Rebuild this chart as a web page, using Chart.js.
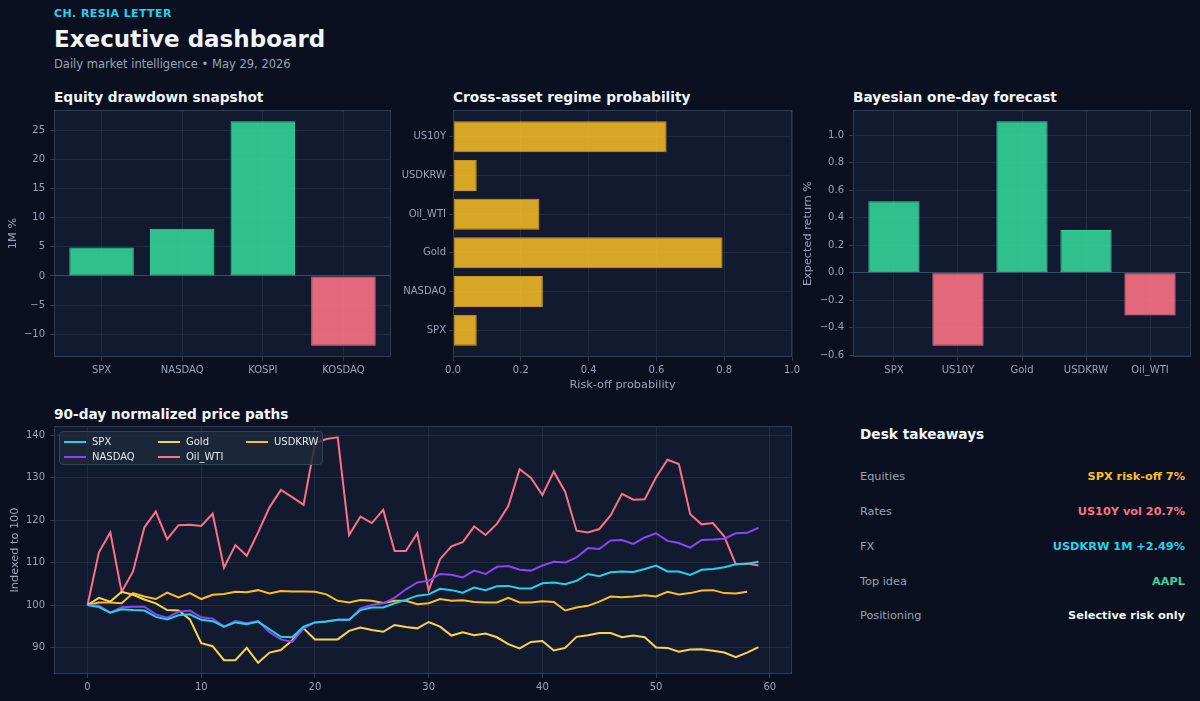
<!DOCTYPE html>
<html lang="en">
<head>
<meta charset="utf-8">
<script src="https://cdn.jsdelivr.net/npm/chart.js@4.4.1/dist/chart.umd.min.js"></script>
<style>
  html, body { margin: 0; padding: 0; background: #0b1020; }
  body { width: 1200px; height: 701px; position: relative; overflow: hidden; font-family: "DejaVu Sans", sans-serif; }
  .abs { position: absolute; line-height: 1; white-space: nowrap; }
  .brand { left: 54px; top: 8px; font-size: 11px; font-weight: bold; color: #22d3ee; letter-spacing: 0.4px; }
  .title { left: 54px; top: 27.5px; font-size: 23px; font-weight: bold; color: #f1f5f9; }
  .sub { left: 54px; top: 58.5px; font-size: 11.5px; color: #94a3b8; }
  .ptitle { font-size: 13.7px; font-weight: bold; color: #f1f5f9; }
  .wrap { position: absolute; }
  .legend { position: absolute; left: 59px; top: 431px; width: 264px; height: 34px; box-sizing: border-box;
            background: rgba(30,41,59,0.85); border: 1px solid #334155; border-radius: 4px; }
  .li { position: absolute; font-size: 10px; color: #e2e8f0; line-height: 1; }
  .li i { position: absolute; width: 22px; height: 2px; top: 4px; }
  .row-l { left: 860px; font-size: 11.3px; color: #94a3b8; }
  .row-v { right: 15px; font-size: 11.3px; font-weight: bold; text-align: right; }
</style>
</head>
<body>
<div class="abs brand">CH. RESIA LETTER</div>
<div class="abs title">Executive dashboard</div>
<div class="abs sub">Daily market intelligence • May 29, 2026</div>

<div class="abs ptitle" style="left:54px;top:91.4px">Equity drawdown snapshot</div>
<div class="abs ptitle" style="left:453px;top:91.4px">Cross-asset regime probability</div>
<div class="abs ptitle" style="left:853px;top:91.4px">Bayesian one-day forecast</div>
<div class="abs ptitle" style="left:54px;top:408.4px">90-day normalized price paths</div>
<div class="abs ptitle" style="left:860px;top:427.8px">Desk takeaways</div>

<div class="wrap" style="left:0;top:99px;width:391px;height:293px"><canvas id="eq"></canvas></div>
<div class="wrap" style="left:390px;top:101px;width:413px;height:291px"><canvas id="regime"></canvas></div>
<div class="wrap" style="left:795px;top:99px;width:396px;height:293px"><canvas id="fc"></canvas></div>
<div class="wrap" style="left:0;top:415px;width:792px;height:289px"><canvas id="paths"></canvas></div>
<div class="legend" id="legend"></div>
<div id="desk"></div>

<script>
// ---- equity drawdown snapshot
var eqCats = ['SPX', 'NASDAQ', 'KOSPI', 'KOSDAQ'];
var eqVals = [4.9, 8.1, 26.6, -12.0];
var eqTicks = [-10, -5, 0, 5, 10, 15, 20, 25];

// ---- cross-asset regime probability (bottom to top)
var regCats = ['SPX', 'NASDAQ', 'Gold', 'Oil_WTI', 'USDKRW', 'US10Y'];
var regVals = [0.07, 0.265, 0.795, 0.255, 0.07, 0.63];
var regTicks = [0, 0.2, 0.4, 0.6, 0.8, 1.0];

// ---- bayesian one-day forecast
var fcCats = ['SPX', 'US10Y', 'Gold', 'USDKRW', 'Oil_WTI'];
var fcVals = [0.52, -0.53, 1.10, 0.31, -0.31];
var fcTicks = [-0.6, -0.4, -0.2, 0, 0.2, 0.4, 0.6, 0.8, 1.0];

// ---- 90-day normalized price paths
var pathNames = ['SPX', 'NASDAQ', 'Gold', 'Oil_WTI', 'USDKRW'];
var spx = [100, 99.5, 98.2, 99.0, 98.8, 98.7, 97.2, 96.6, 97.6, 97.8,
  96.5, 96.2, 94.9, 95.9, 95.5, 96.1, 94.3, 92.5, 92.4, 94.9,
  95.9, 96.1, 96.5, 96.5, 98.8, 99.4, 99.4, 100.4, 101.2, 102.2,
  102.5, 103.8, 103.5, 102.9, 104.1, 103.5, 104.4, 104.5, 103.9, 103.9,
  105.1, 105.3, 104.9, 105.7, 107.3, 106.8, 107.7, 107.9, 107.8, 108.5,
  109.3, 107.9, 107.9, 107.1, 108.3, 108.5, 108.9, 109.6, 109.7, 110.2];
var nasdaq = [100, 99.8, 98.2, 99.5, 99.6, 99.6, 97.8, 97.0, 98.4, 98.7,
  97.1, 96.8, 94.9, 96.2, 95.7, 96.2, 93.6, 91.9, 91.3, 94.5,
  95.9, 96.1, 96.5, 96.5, 99.2, 100.0, 100.4, 101.7, 103.7, 105.3,
  105.7, 107.3, 107.1, 106.5, 108.1, 107.3, 109.0, 109.2, 108.3, 108.1,
  109.3, 110.2, 110.0, 111.2, 113.4, 113.2, 115.2, 115.3, 114.4, 115.9,
  116.9, 115.1, 114.6, 113.5, 115.3, 115.4, 115.6, 116.9, 117.0, 118.2];
var gold = [100, 101.7, 100.8, 103.1, 102.4, 101.3, 100.4, 98.8, 98.7, 96.6,
  91.0, 90.3, 87.0, 87.0, 89.9, 86.4, 88.8, 89.4, 91.7, 94.5,
  91.9, 91.9, 91.9, 93.9, 94.7, 94.1, 93.7, 95.3, 94.8, 94.5,
  96.0, 94.9, 92.8, 93.6, 92.9, 93.3, 92.4, 90.8, 89.8, 91.3,
  91.5, 89.3, 89.9, 92.5, 92.9, 93.4, 93.4, 92.4, 92.8, 92.4,
  90.0, 89.9, 89.0, 89.5, 89.6, 89.2, 88.8, 87.7, 88.8, 90.1];
var oil = [100, 112.4, 117.1, 103.1, 107.9, 118.3, 122.0, 115.5, 118.8, 118.9,
  118.6, 121.5, 108.8, 114.1, 111.6, 117.1, 123.0, 127.1, 125.4, 123.6,
  138.1, 139.1, 139.5, 116.5, 120.8, 119.3, 122.4, 112.7, 112.7, 116.9,
  103.4, 110.8, 113.8, 114.8, 118.5, 116.5, 119.1, 123.3, 132.0, 129.9,
  125.9, 131.4, 126.7, 117.5, 117.1, 117.9, 121.1, 126.2, 124.8, 124.9,
  130.1, 134.2, 133.2, 121.4, 119.0, 119.3, 116.1, 109.6, 109.8, 109.3];
var usdkrw = [100, 100.6, 100.6, 100.4, 102.8, 102.0, 101.4, 102.9, 101.8, 102.8,
  101.4, 102.4, 102.6, 103.1, 103.0, 103.5, 102.7, 103.3, 103.2, 103.2,
  103.1, 102.5, 101.0, 100.6, 101.2, 101.0, 100.5, 101.0, 101.0, 100.2,
  100.4, 101.4, 101.0, 101.1, 100.7, 100.6, 100.6, 101.7, 100.6, 100.6,
  100.9, 100.7, 98.7, 99.4, 99.8, 100.8, 102.0, 101.8, 102.0, 102.3,
  102.0, 103.1, 102.5, 102.8, 103.4, 103.5, 102.8, 102.7, 103.1];
var dayTicks = [0, 10, 20, 30, 40, 50, 60];
var pathTicks = [90, 100, 110, 120, 130, 140];

// ---- desk takeaways
var deskLabels = ['Equities', 'Rates', 'FX', 'Top idea', 'Positioning'];
var deskValues = ['SPX risk-off 7%', 'US10Y vol 20.7%', 'USDKRW 1M +2.49%', 'AAPL', 'Selective risk only'];
var deskColors = ['#fbbf24', '#fb7185', '#22d3ee', '#34d399', '#f1f5f9'];

var GREEN = 'rgba(52,211,153,0.9)', RED = 'rgba(251,113,133,0.9)';
var GRID = 'rgba(51,65,85,0.45)', ZERO = '#3b4a68', EDGE = '#2e3b57';
var lineColors = ['#22d3ee', '#8b45f5', '#fcd34d', '#fb7185', '#fbbf24'];

Chart.defaults.font.family = 'DejaVu Sans';
Chart.defaults.font.size = 10;
Chart.defaults.color = '#94a3b8';
Chart.defaults.animation = false;
Chart.defaults.responsive = true;
Chart.defaults.maintainAspectRatio = false;

var panelBg = {
    id: 'panelBg',
    beforeDraw: function (chart) {
        var a = chart.chartArea, ctx = chart.ctx;
        ctx.save();
        ctx.fillStyle = '#121a2f';
        ctx.fillRect(a.left, a.top, a.right - a.left, a.bottom - a.top);
        ctx.restore();
    },
    afterDraw: function (chart) {
        var a = chart.chartArea, ctx = chart.ctx;
        ctx.save();
        ctx.strokeStyle = EDGE;
        ctx.lineWidth = 1;
        ctx.strokeRect(a.left + 0.5, a.top + 0.5, a.right - a.left - 1, a.bottom - a.top - 1);
        ctx.restore();
    }
};

function fixTicks(list) {
    return function (s) { s.ticks = list.map(function (v) { return {value: v}; }); };
}
function minus(v, d) {
    return (v < 0 ? '\u2212' : '') + Math.abs(v).toFixed(d);
}
function gridOpts(zero) {
    return {
        color: function (c) { return zero && c.tick && c.tick.value === 0 ? ZERO : GRID; },
        tickColor: EDGE, tickLength: 4, lineWidth: 1, offset: false
    };
}
function yTitle(text, pad) {
    return {display: true, text: text, color: '#94a3b8', font: {size: 11.3}, padding: {top: pad, bottom: 0}};
}

function vbar(id, cats, vals, ticks, ymin, ymax, yw, title, titlePad, dec) {
    var m = 0.05 * (cats.length - 1 + 0.8);
    new Chart(document.getElementById(id), {
        type: 'bar',
        data: {
            datasets: [{
                data: vals.map(function (v, i) { return {x: i, y: v}; }),
                backgroundColor: vals.map(function (v) { return v >= 0 ? GREEN : RED; }),
                borderColor: vals.map(function (v) { return v >= 0 ? '#34d399' : '#fb7185'; }),
                borderWidth: 1, borderSkipped: false,
                categoryPercentage: 1, barPercentage: 0.8
            }]
        },
        options: {
            layout: {padding: 0},
            plugins: {legend: {display: false}, tooltip: {enabled: false}},
            scales: {
                x: {
                    type: 'linear', offset: false, min: -0.4 - m, max: cats.length - 0.6 + m,
                    afterBuildTicks: fixTicks(cats.map(function (c, i) { return i; })),
                    ticks: {callback: function (v) { return cats[v]; }, padding: 3, maxRotation: 0, autoSkip: false},
                    grid: gridOpts(false), border: {display: false},
                    afterFit: function (s) { s.height = 35; }, z: 1
                },
                y: {
                    min: ymin, max: ymax,
                    afterBuildTicks: fixTicks(ticks),
                    ticks: {callback: function (v) { return minus(v, dec); }, padding: 5},
                    grid: gridOpts(true), border: {display: false},
                    title: yTitle(title, titlePad),
                    afterFit: function (s) { s.width = yw; }, z: 1
                }
            }
        },
        plugins: [panelBg]
    });
}

vbar('eq', eqCats, eqVals, eqTicks, -13.93, 28.53, 54, '1M %', 6, 0);
vbar('fc', fcCats, fcVals, fcTicks, -0.6115, 1.1815, 58, 'Expected return %', 6, 1);

new Chart(document.getElementById('regime'), {
    type: 'bar',
    data: {
        datasets: [{
            data: regVals.map(function (v, i) { return {x: v, y: i}; }),
            backgroundColor: 'rgba(251,191,36,0.85)',
            borderColor: '#c9961c', borderWidth: 1, borderSkipped: false,
            categoryPercentage: 1, barPercentage: 0.8
        }]
    },
    options: {
        indexAxis: 'y',
        layout: {padding: 0},
        plugins: {legend: {display: false}, tooltip: {enabled: false}},
        scales: {
            x: {
                type: 'linear', offset: false, min: 0, max: 1,
                afterBuildTicks: fixTicks(regTicks),
                ticks: {callback: function (v) { return v.toFixed(1); }, padding: 3, maxRotation: 0},
                grid: gridOpts(false), border: {display: false},
                title: {display: true, text: 'Risk-off probability', color: '#94a3b8', font: {size: 11.3}, padding: {top: 2, bottom: 0}},
                afterFit: function (s) { s.height = 35; }, z: 1
            },
            y: {
                type: 'linear', offset: false, min: -0.69, max: 5.69,
                afterBuildTicks: fixTicks(regCats.map(function (c, i) { return i; })),
                ticks: {callback: function (v) { return regCats[v]; }, padding: 3, autoSkip: false},
                grid: gridOpts(false), border: {display: false},
                afterFit: function (s) { s.width = 63; }, z: 1
            }
        }
    },
    plugins: [panelBg]
});

var series = [spx, nasdaq, gold, oil, usdkrw];
new Chart(document.getElementById('paths'), {
    type: 'line',
    data: {
        datasets: series.map(function (arr, k) {
            return {
                label: pathNames[k],
                data: arr.map(function (v, i) { return {x: i, y: v}; }),
                borderColor: lineColors[k], borderWidth: 2,
                pointRadius: 0, tension: 0, fill: false
            };
        })
    },
    options: {
        layout: {padding: 0},
        plugins: {legend: {display: false}, tooltip: {enabled: false}},
        scales: {
            x: {
                type: 'linear', min: -2.95, max: 61.95,
                afterBuildTicks: fixTicks(dayTicks),
                ticks: {padding: 3, maxRotation: 0},
                grid: gridOpts(false), border: {display: false},
                afterFit: function (s) { s.height = 30; }
            },
            y: {
                min: 83.75, max: 142.16,
                afterBuildTicks: fixTicks(pathTicks),
                ticks: {padding: 5},
                grid: gridOpts(false), border: {display: false},
                title: yTitle('Indexed to 100', 8),
                afterFit: function (s) { s.width = 54; }
            }
        }
    },
    plugins: [panelBg]
});

// legend, matplotlib style: 3 columns filled column by column
var legend = document.getElementById('legend');
var colX = [2, 96, 184], rowY = [5, 20];
pathNames.forEach(function (name, k) {
    var col = Math.floor(k / 2), row = k % 2;
    var el = document.createElement('div');
    el.className = 'li';
    el.style.left = (colX[col] + 30) + 'px';
    el.style.top = rowY[row] + 'px';
    el.innerHTML = '<i style="left:-28px;background:' + lineColors[k] + '"></i>' + name;
    legend.appendChild(el);
});

// desk takeaways
var desk = document.getElementById('desk');
var rowTop = [476.7, 511.7, 546.7, 581.2, 615.9];
deskLabels.forEach(function (lab, i) {
    var t = (rowTop[i] - 0.48 * 11.3) + 'px';
    var l = document.createElement('div');
    l.className = 'abs row-l'; l.style.top = t; l.textContent = lab;
    var v = document.createElement('div');
    v.className = 'abs row-v'; v.style.top = t; v.style.color = deskColors[i]; v.textContent = deskValues[i];
    desk.appendChild(l); desk.appendChild(v);
});
</script>
</body>
</html>
